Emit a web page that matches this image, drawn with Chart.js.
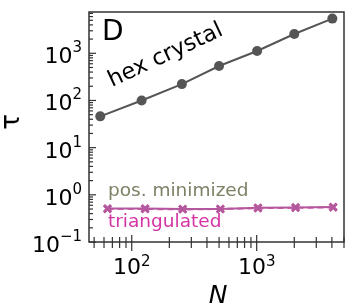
<!DOCTYPE html>
<html>
<head>
<meta charset="utf-8">
<script src="https://cdn.jsdelivr.net/npm/chart.js@4"></script>
<style>
  html, body { margin: 0; padding: 0; background: #fff; }
  #wrap { width: 352px; height: 308px; }
</style>
</head>
<body>
<div id="wrap"><canvas id="tauChart" width="352" height="308"></canvas></div>
<script>
// values
const hexN = [56, 120, 252, 500, 1008, 2000, 4032];
const hexTau = [46, 100, 222, 538, 1120, 2560, 5430];
const sizesN = [64, 128, 256, 512, 1024, 2048, 4096];
const posMinTau = [0.51, 0.51, 0.50, 0.50, 0.53, 0.54, 0.55];
const triTau = [0.50, 0.50, 0.49, 0.50, 0.52, 0.53, 0.54];
const xTickExps = [2, 3];
const yTickExps = [-1, 0, 1, 2, 3];

const FONT = "'DejaVu Sans', sans-serif";

const toPoints = (xs, ys) => xs.map((x, i) => ({ x: x, y: ys[i] }));

// draws the frame, ticks, tick labels and axis titles like matplotlib
const axesPlugin = {
  id: "mplAxes",
  afterDraw(chart) {
    const ctx = chart.ctx;
    const area = chart.chartArea;
    const xs = chart.scales.x;
    const ys = chart.scales.y;
    ctx.save();

    // frame
    ctx.strokeStyle = "#333";
    ctx.lineWidth = 1.5;
    ctx.strokeRect(area.left, area.top, area.right - area.left, area.bottom - area.top);

    ctx.lineWidth = 1.2;
    ctx.strokeStyle = "#333";

    // x ticks (in and out)
    for (let e = 1; e <= 3; e++) {
      for (let m = 1; m <= 9; m++) {
        const v = m * Math.pow(10, e);
        if (v < xs.min || v > xs.max) continue;
        const px = xs.getPixelForValue(v);
        const major = m === 1;
        ctx.beginPath();
        ctx.moveTo(px, area.bottom - (major ? 7 : 5));
        ctx.lineTo(px, area.bottom + (major ? 9 : 6));
        ctx.stroke();
      }
    }

    // y ticks (inside)
    for (let e = -1; e <= 3; e++) {
      for (let m = 1; m <= 9; m++) {
        const v = m * Math.pow(10, e);
        if (v < ys.min || v > ys.max) continue;
        const py = ys.getPixelForValue(v);
        const major = m === 1;
        ctx.beginPath();
        ctx.moveTo(area.left, py);
        ctx.lineTo(area.left + (major ? 7 : 4), py);
        ctx.stroke();
      }
    }

    ctx.fillStyle = "#000";
    ctx.textBaseline = "alphabetic";

    // y tick labels
    for (let e of yTickExps) {
      const py = ys.getPixelForValue(Math.pow(10, e));
      const expTxt = e < 0 ? "\u2212" + Math.abs(e) : String(e);
      ctx.font = "15px " + FONT;
      const ew = ctx.measureText(expTxt).width;
      const right = 82;
      ctx.textAlign = "right";
      ctx.fillText(expTxt, right, py - 1);
      ctx.font = "22px " + FONT;
      ctx.fillText("10", right - ew, py + 10);
    }

    // x tick labels
    for (let e of xTickExps) {
      const px = xs.getPixelForValue(Math.pow(10, e));
      const expTxt = String(e);
      ctx.font = "22px " + FONT;
      const bw = ctx.measureText("10").width;
      ctx.font = "15px " + FONT;
      const ew = ctx.measureText(expTxt).width;
      const start = px - (bw + ew) / 2;
      ctx.textAlign = "left";
      ctx.font = "22px " + FONT;
      ctx.fillText("10", start, 274);
      ctx.font = "15px " + FONT;
      ctx.fillText(expTxt, start + bw, 266);
    }

    // axis titles
    ctx.font = "italic 25px " + FONT;
    ctx.textAlign = "center";
    ctx.fillText("N", 218, 303);

    ctx.save();
    ctx.translate(12, 122);
    ctx.rotate(-Math.PI / 2);
    ctx.font = "26px " + FONT;
    ctx.textAlign = "center";
    ctx.textBaseline = "middle";
    ctx.fillText("\u03C4", 0, 0);
    ctx.restore();

    // panel letter and annotations
    ctx.textAlign = "left";
    ctx.textBaseline = "alphabetic";
    ctx.font = "28px " + FONT;
    ctx.fillText("D", 102, 40);

    ctx.save();
    ctx.translate(112, 87);
    ctx.rotate(-25 * Math.PI / 180);
    ctx.font = "22.5px " + FONT;
    ctx.fillStyle = "#000";
    ctx.fillText("hex crystal", 0, 0);
    ctx.restore();

    ctx.font = "18.5px " + FONT;
    ctx.fillStyle = "#7f8166";
    ctx.fillText("pos. minimized", 108, 196);
    ctx.fillStyle = "#d534a4";
    ctx.fillText("triangulated", 108, 227);

    ctx.restore();
  }
};

new Chart(document.getElementById("tauChart"), {
  type: "line",
  data: {
    datasets: [
      {
        label: "hex crystal",
        data: toPoints(hexN, hexTau),
        borderColor: "#555",
        backgroundColor: "#555",
        borderWidth: 2,
        pointRadius: 5,
        pointStyle: "circle",
        pointBorderWidth: 0,
      },
      {
        label: "pos. minimized",
        data: toPoints(sizesN, posMinTau),
        borderColor: "#b4589e",
        backgroundColor: "#b4589e",
        borderWidth: 2,
        pointRadius: 5,
        pointStyle: "crossRot",
        pointBorderWidth: 3,
      },
      {
        label: "triangulated",
        data: toPoints(sizesN, triTau),
        borderColor: "rgba(214, 60, 165, 0.85)",
        backgroundColor: "rgba(214, 60, 165, 0.85)",
        borderWidth: 2,
        borderDash: [6, 4],
        pointRadius: 5,
        pointStyle: "crossRot",
        pointBorderWidth: 2.5,
      },
    ],
  },
  options: {
    responsive: false,
    animation: false,
    layout: { padding: { left: 89, top: 12, right: 4, bottom: 66 } },
    plugins: {
      legend: { display: false },
      tooltip: { enabled: false },
    },
    scales: {
      x: { type: "logarithmic", min: 45.5, max: 5000, display: false },
      y: { type: "logarithmic", min: 0.1, max: 7500, display: false },
    },
  },
  plugins: [axesPlugin],
});
</script>
</body>
</html>
